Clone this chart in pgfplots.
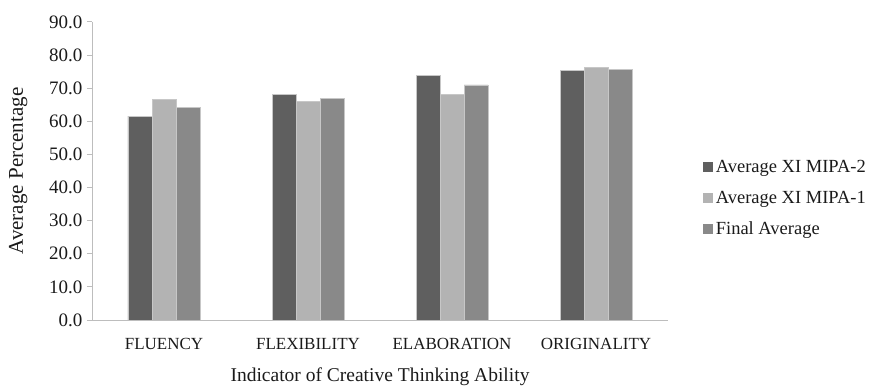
\documentclass[border=0pt]{standalone}
\usepackage{fontspec}
\setmainfont{Liberation Serif}
\usepackage{pgfplots}
\pgfplotsset{compat=1.18}

\definecolor{barA}{HTML}{5F5F5F}
\definecolor{barB}{HTML}{B3B3B3}
\definecolor{barC}{HTML}{898989}
\definecolor{axisgray}{HTML}{BDBDBD}
\definecolor{txt}{HTML}{1A1A1A}

\begin{document}
\begin{tikzpicture}
\path[use as bounding box] (0,0) rectangle (875bp,387bp);
\begin{axis}[
  at={(92bp,67bp)}, anchor=south west,
  scale only axis, width=576bp, height=298bp,
  ymin=0, ymax=90, xmin=-0.5, xmax=3.5,
  ybar=0pt, bar width=24bp,
  axis x line*=bottom, axis y line*=left,
  axis line style={axisgray, line width=1bp},
  xtick=data,
  xticklabels={FLUENCY,FLEXIBILITY,ELABORATION,ORIGINALITY},
  x tick style={draw=none},
  ytick={0,10,...,90},
  y tick style={axisgray, line width=1bp},
  tick align=outside, major tick length=5bp,
  yticklabel={\pgfmathprintnumber[fixed,fixed zerofill,precision=1]{\tick}},
  /pgf/number format/assume math mode=true,
  ticklabel style={font=\fontsize{19bp}{21bp}\selectfont, text=txt},
  yticklabel style={xshift=-1bp},
  xticklabel style={font=\fontsize{17bp}{19bp}\selectfont, yshift=-10bp},
  xlabel={Indicator of Creative Thinking Ability},
  ylabel={Average Percentage},
  label style={font=\fontsize{19.5bp}{21bp}\selectfont, text=txt},
  xlabel style={at={(axis description cs:0.5,-0.19)}, anchor=center},
  ylabel style={at={(axis description cs:-0.128,0.5)}, anchor=center, rotate=0,
    font=\fontsize{21bp}{23bp}\selectfont},
  every axis plot/.append style={draw=black!22, line width=0.6bp},
  legend cell align=left,
  legend style={at={(axis description cs:1.061,0.545)}, anchor=north west,
    draw=none, fill=none, inner sep=0pt, row sep=12bp,
    font=\fontsize{18.5bp}{20bp}\selectfont, text=txt,
    nodes={inner sep=2.5bp}},
  legend image code/.code={\fill[#1, draw=none] (0bp,-5bp) rectangle (10bp,5bp);},
]
\addplot[fill=barA] coordinates {(0,61.6) (1,68.2) (2,73.8) (3,75.3)};
\addplot[fill=barB] coordinates {(0,66.6) (1,65.9) (2,68.2) (3,76.4)};
\addplot[fill=barC] coordinates {(0,64.1) (1,67.0) (2,71.0) (3,75.8)};
\legend{Average XI MIPA-2, Average XI MIPA-1, Final Average}
\end{axis}
\end{tikzpicture}
\end{document}
